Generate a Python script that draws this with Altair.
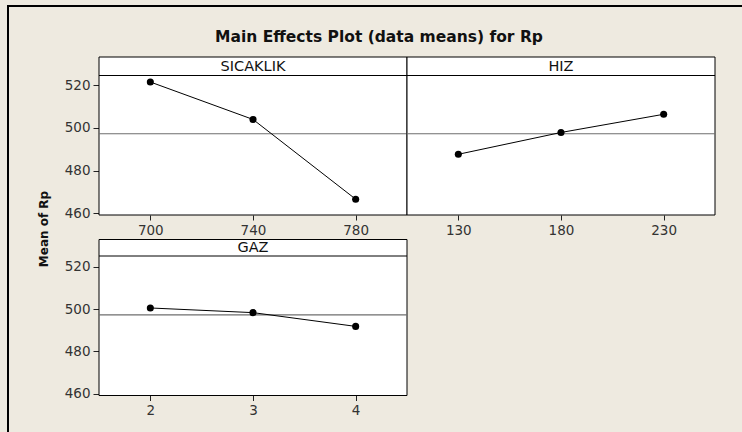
import altair as alt
import pandas as pd

# ---- data ----
sic_levels = [700, 740, 780]
sic_means = [521.4, 503.9, 466.6]
hiz_levels = [130, 180, 230]
hiz_means = [487.6, 497.8, 506.3]
gaz_levels = [2, 3, 4]
gaz_means = [500.5, 498.3, 491.8]
grand_mean = [497.2]
y_ticks = [460, 480, 500, 520]

TITLE = "Main Effects Plot (data means) for Rp"
Y_TITLE = "Mean of Rp"

BG = "#EEEAE0"
FONT = "DejaVu Sans"
W, H = 742, 432


def one():
    return alt.Chart(pd.DataFrame({"k": [0]}))


def panel(name, levels, means, x0, x1, ytop, yhead, ybot, y460, y520, show_y):
    labels = [str(v) for v in levels]
    df = pd.DataFrame({"level": labels, "mean": means})
    xs = alt.Scale(type="point", domain=labels, range=[x0, x1], padding=0.5)
    ys = alt.Scale(domain=[460, 520], range=[y460, y520], zero=False, nice=False)
    xaxis = alt.Axis(orient="bottom", offset=ybot - H, title=None, domain=False,
                     grid=False, tickSize=5, tickColor="#222", labelPadding=3,
                     labelFont=FONT, labelFontSize=13.5, labelColor="#333", labelAngle=0)
    if show_y:
        yaxis = alt.Axis(orient="left", offset=-x0, title=None, domain=False,
                         grid=False, values=y_ticks, format="d", tickSize=6,
                         tickColor="#222", labelPadding=3, labelFont=FONT,
                         labelFontSize=13.5, labelColor="#333")
    else:
        yaxis = None

    def yenc(field):
        return alt.Y(field, type="quantitative", scale=ys, axis=yaxis)

    box = one().mark_rect(fill="white", stroke="black", strokeWidth=1).encode(
        x=alt.value(x0), x2=alt.value(x1), y=alt.value(ytop), y2=alt.value(ybot))
    head_rule = one().mark_rule(color="black", strokeWidth=1).encode(
        x=alt.value(x0), x2=alt.value(x1), y=alt.value(yhead))
    head_text = one().mark_text(font=FONT, fontSize=14.5, color="#111",
                                baseline="middle", align="center").encode(
        x=alt.value((x0 + x1) / 2), y=alt.value((ytop + yhead) / 2 + 0.5),
        text=alt.value(name))
    mean_rule = alt.Chart(pd.DataFrame({"mean": grand_mean})).mark_rule(
        color="#6e6e6e", strokeWidth=1.2).encode(
        x=alt.value(x0), x2=alt.value(x1), y=yenc("mean"))
    base = alt.Chart(df).encode(
        x=alt.X("level:O", scale=xs, axis=xaxis, sort=labels), y=yenc("mean"))
    line = base.mark_line(color="black", strokeWidth=1)
    pts = base.mark_circle(color="black", size=50, opacity=1)
    return alt.layer(box, head_rule, head_text, mean_rule, line, pts)


frame = one().mark_rect(fill=None, stroke="black", strokeWidth=2).encode(
    x=alt.value(8), y=alt.value(6), x2=alt.value(W + 50), y2=alt.value(H + 50))
title = one().mark_text(font=FONT, fontSize=15.5, fontWeight="bold", color="#111",
                        baseline="middle", align="center").encode(
    x=alt.value(379), y=alt.value(37), text=alt.value(TITLE))
ytitle = one().mark_text(font=FONT, fontSize=12, fontWeight="bold", color="#111",
                         baseline="middle", align="center", angle=270).encode(
    x=alt.value(44), y=alt.value(229), text=alt.value(Y_TITLE))

p_sic = panel("SICAKLIK", sic_levels, sic_means, 99, 407, 57, 75.5, 215, 213.3, 85, True)
p_hiz = panel("HIZ", hiz_levels, hiz_means, 407, 715, 57, 75.5, 215, 213.3, 85, False)
p_gaz = panel("GAZ", gaz_levels, gaz_means, 99, 407, 239.5, 256, 395.5, 393.7, 266.7, True)

chart = alt.layer(frame, title, ytitle, p_sic, p_hiz, p_gaz).resolve_scale(
    x="independent", y="independent").resolve_axis(
    x="independent", y="independent").properties(
    width=W, height=H, autosize=alt.AutoSizeParams(type="none"), padding=0,
    background=BG).configure_view(stroke=None)

chart.save("out.html", embed_options={"renderer": "svg", "actions": False})
